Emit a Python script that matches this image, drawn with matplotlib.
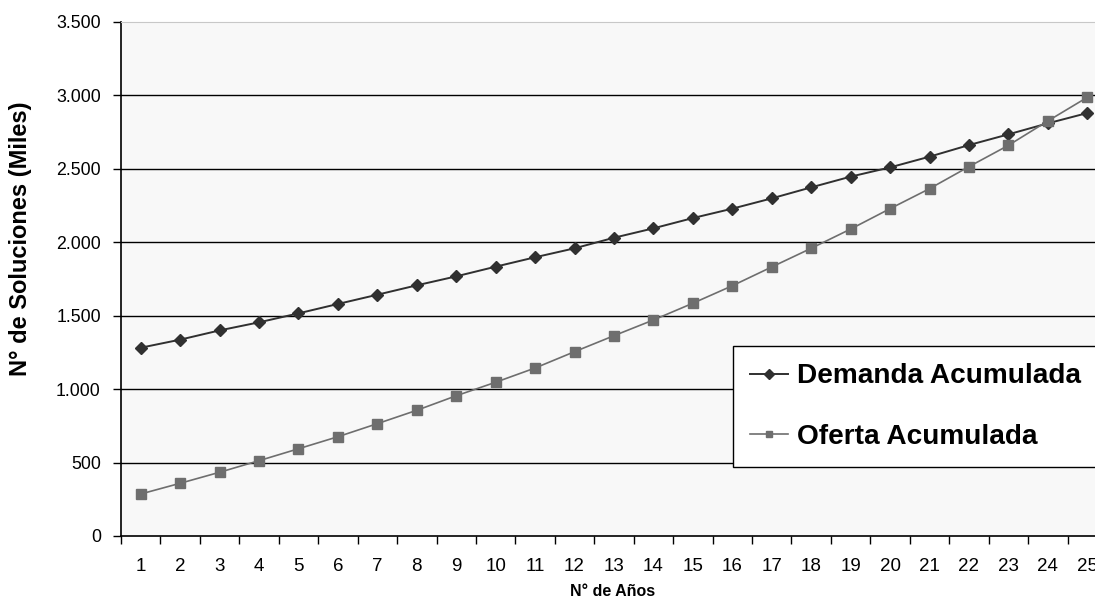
import matplotlib
matplotlib.use("Agg")
import matplotlib.pyplot as plt
from matplotlib.ticker import FuncFormatter, FixedLocator
import numpy as np

years = list(range(1, 26))
demanda = [1282, 1337, 1400, 1455, 1516, 1580, 1643, 1707, 1768, 1834,
           1898, 1959, 2031, 2095, 2165, 2229, 2299, 2374, 2447, 2510,
           2583, 2662, 2735, 2810, 2880]
oferta = [286, 359, 434, 513, 594, 676, 765, 856, 955, 1047,
          1144, 1255, 1364, 1471, 1585, 1704, 1832, 1959, 2090, 2229,
          2365, 2515, 2660, 2826, 2987]
y_ticks = [0, 500, 1000, 1500, 2000, 2500, 3000, 3500]
labels = ["Demanda Acumulada", "Oferta Acumulada"]

plt.rcParams['font.family'] = ['Liberation Sans', 'DejaVu Sans']

W, H = 1095, 600
fig = plt.figure(figsize=(W / 100, H / 100), dpi=100)
fig.patch.set_facecolor('white')
ax = fig.add_axes([121 / W, 1 - 536 / H, 986 / W, 514 / H])
ax.set_facecolor('#f8f8f8')

ax.set_xlim(0.5, 25.5)
ax.set_ylim(0, 3500)

for v in y_ticks[1:-1]:
    ax.axhline(v, color='black', lw=1.0, zorder=1)

ax.plot(years, demanda, color='#303030', lw=1.4, marker='D', markersize=6.5,
        markeredgecolor='#303030', markerfacecolor='#303030', label=labels[0], zorder=3)
ax.plot(years, oferta, color='#6e6e6e', lw=1.2, marker='s', markersize=6.5,
        markeredgecolor='#6e6e6e', markerfacecolor='#6e6e6e', label=labels[1], zorder=3)

ax.set_yticks(y_ticks)
ax.yaxis.set_major_formatter(FuncFormatter(lambda v, p: f"{int(v):,}".replace(",", ".")))
ax.tick_params(axis='y', direction='out', length=6, width=1, labelsize=12.8, pad=8.5, color='black')

ax.set_xticks(years)
ax.set_xticklabels([str(y) for y in years])
ax.xaxis.set_minor_locator(FixedLocator(np.arange(0.5, 26, 1.0)))
ax.tick_params(axis='x', which='major', length=0, labelsize=13.5, pad=16)
ax.tick_params(axis='x', which='minor', direction='out', length=6, width=1, color='black')

for s in ['top', 'right']:
    ax.spines[s].set_color('#c8c8c8')
    ax.spines[s].set_linewidth(0.8)
for s in ['left', 'bottom']:
    ax.spines[s].set_color('black')
    ax.spines[s].set_linewidth(1.2)

fig.text(21 / W, 1 - 239 / H, "N° de Soluciones (Miles)", fontsize=17, fontweight='bold',
         rotation=90, ha='center', va='center')
fig.text(613 / W, 1 - 591 / H, "N° de Años", fontsize=11.5, fontweight='bold',
         ha='center', va='center')

leg = ax.legend(loc='upper left', bbox_to_anchor=(733 / W, 1 - 346 / H),
                bbox_transform=fig.transFigure, borderaxespad=0,
                prop={'weight': 'bold', 'size': 20.2}, frameon=True, fancybox=False,
                edgecolor='black', facecolor='white', framealpha=1,
                handlelength=1.35, handletextpad=0.32, labelspacing=1.22, borderpad=0.62,
                markerscale=0.75)
leg.get_frame().set_linewidth(1.0)

fig.savefig("out.png", dpi=100)
